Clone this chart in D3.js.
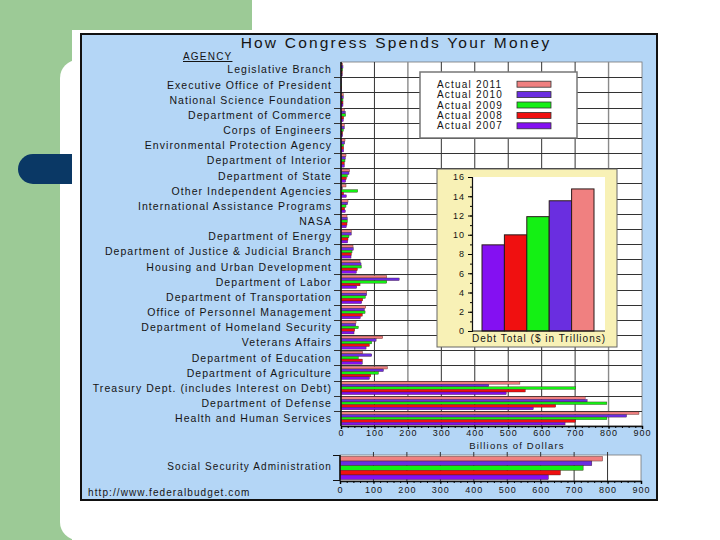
<!DOCTYPE html>
<html><head><meta charset="utf-8">
<script src="https://cdn.jsdelivr.net/npm/d3@7"></script>
<style>
body{margin:0;background:#fff;}
text{font-family:"Liberation Sans",Arial,Helvetica,sans-serif;fill:#141414;}
</style></head>
<body><svg id="c" width="720" height="540"></svg>
<script>
const categories = ["Legislative Branch","Executive Office of President","National Science Foundation","Department of Commerce","Corps of Engineers","Environmental Protection Agency","Department of Interior","Department of State","Other Independent Agencies","International Assistance Programs","NASA","Department of Energy","Department of Justice & Judicial Branch","Housing and Urban Development","Department of Labor","Department of Transportation","Office of Personnel Management","Department of Homeland Security","Veterans Affairs","Department of Education","Department of Agriculture","Treasury Dept. (includes Interest on Debt)","Department of Defense","Health and Human Services"];
const years = ["2011","2010","2009","2008","2007"];
const actual2011 = [5,1,7,10,10,12,15,26,15,21,18,31,36,57,137,77,74,45,125,65,139,535,730,891];
const actual2010 = [6,1,7,13,10,11,13,24,4,20,19,31,37,60,174,77,70,44,105,92,127,442,736,854];
const actual2009 = [5,1,6,14,7,8,12,19,50,15,19,24,33,61,137,73,72,52,92,52,112,702,795,795];
const actual2008 = [4,1,6,8,5,8,10,16,8,11,18,21,31,49,57,65,64,41,85,64,89,551,642,701];
const actual2007 = [4,2,6,7,5,8,10,14,16,13,16,20,30,46,47,62,58,39,75,64,85,494,575,670];
const socialSecurity = {category:"Social Security Administration", values:[785,753,727,659,623]};
const debtYears = ["2007","2008","2009","2010","2011"];
const debtTotals = [8.95,9.99,11.88,13.53,14.76];
const xTicks = [0,100,200,300,400,500,600,700,800,900];
const debtTicks = [0,2,4,6,8,10,12,14,16];

const colors = {"2011":"#f08080","2010":"#6a2ee0","2009":"#14f014","2008":"#f01010","2007":"#8410f2"};
const series = {"2011":actual2011,"2010":actual2010,"2009":actual2009,"2008":actual2008,"2007":actual2007};

const svg = d3.select("#c");
// slide background
svg.append("rect").attr("x",0).attr("y",0).attr("width",252).attr("height",30).attr("fill","#9cca96");
svg.append("rect").attr("x",0).attr("y",0).attr("width",72).attr("height",540).attr("fill","#9cca96");
svg.append("rect").attr("x",60).attr("y",60).attr("width",40).attr("height",480).attr("rx",18).attr("fill","#fff");
svg.append("rect").attr("x",72).attr("y",30).attr("width",30).attr("height",510).attr("fill","#fff");
svg.append("rect").attr("x",18).attr("y",154).attr("width",70).attr("height",30).attr("rx",15).attr("fill","#0a3865");
svg.append("rect").attr("x",72).attr("y",150).attr("width",20).attr("height",40).attr("fill","#fff");

// chart frame
svg.append("rect").attr("x",81).attr("y",34).attr("width",576).attr("height",466).attr("fill","#b4d6f6").attr("stroke","#111").attr("stroke-width",2);

svg.append("text").attr("x",396).attr("y",48).attr("text-anchor","middle").style("font-size","15.5px").style("letter-spacing","2.2px").text("How Congress Spends Your Money");
svg.append("text").attr("x",183).attr("y",60).style("font-size","10px").style("letter-spacing","1.2px").style("text-decoration","underline").text("AGENCY");

const x = d3.scaleLinear().domain([0,900]).range([341,642]);
const y = d3.scaleBand().domain(categories).range([62,426]);
const yi = d3.scaleBand().domain(years).range([0,y.bandwidth()]).paddingOuter(0.4);

svg.append("rect").attr("x",341).attr("y",62).attr("width",301).attr("height",364).attr("fill","#fff").attr("stroke","#777").attr("stroke-width",0.8);
// vertical grid
svg.append("g").selectAll("line").data(xTicks.slice(1,9)).join("line")
  .attr("x1",d=>x(d)).attr("x2",d=>x(d)).attr("y1",62).attr("y2",426)
  .attr("stroke",d=>(d===200||d===800)?"#8a8a8a":"#333").attr("stroke-width",d=>(d===200||d===800)?1.4:1);
// horizontal grid at band boundaries
svg.append("g").selectAll("line").data(categories.slice(1)).join("line")
  .attr("x1",334).attr("x2",642).attr("y1",d=>Math.round(y(d))+0.5).attr("y2",d=>Math.round(y(d))+0.5)
  .attr("stroke","#333").attr("stroke-width",1);

// bars
const bg = svg.append("g");
years.forEach(yr=>{
  bg.append("g").selectAll("rect").data(categories).join("rect")
    .attr("x",x(0)).attr("y",(d)=>y(d)+yi(yr))
    .attr("width",(d,i)=>Math.max(0.6,x(series[yr][i])-x(0))).attr("height",yi.bandwidth())
    .attr("fill",colors[yr]).attr("stroke","#3a1a1a").attr("stroke-width",0.35);
});

// y labels
svg.append("g").selectAll("text").data(categories).join("text")
  .attr("x",332).attr("y",d=>y(d)+y.bandwidth()/2+3.8).attr("text-anchor","end")
  .style("font-size","10.5px").style("letter-spacing","1.05px").text(d=>d);

// axes
const xAxis = svg.append("g").attr("transform","translate(0,426)")
  .call(d3.axisBottom(x).tickValues(xTicks).tickSize(3).tickPadding(1).tickFormat(d3.format("d")));
xAxis.select(".domain").attr("stroke","#111").attr("stroke-width",1.5);
xAxis.selectAll("text").style("font-size","9px").style("letter-spacing","1px").attr("fill","#222");
svg.append("g").attr("transform","translate(0,426)")
  .call(d3.axisBottom(x).tickValues(d3.range(0,901,20)).tickSize(2).tickFormat(""))
  .select(".domain").remove();
svg.append("line").attr("x1",341).attr("x2",341).attr("y1",62).attr("y2",426).attr("stroke","#111").attr("stroke-width",1.5);
svg.append("text").attr("x",517).attr("y",449).attr("text-anchor","middle").style("font-size","9.5px").style("letter-spacing","1.2px").text("Billions of Dollars");

// legend
const lg = svg.append("g");
lg.append("rect").attr("x",420).attr("y",72).attr("width",157).attr("height",66).attr("fill","#fff").attr("stroke","#777").attr("stroke-width",1.5);
const ly = d3.scaleBand().domain(years).range([79,131]);
lg.selectAll("text").data(years).join("text").attr("x",437).attr("y",d=>ly(d)+ly.bandwidth()/2+3.5)
  .style("font-size","10px").style("letter-spacing","1.2px").text(d=>"Actual "+d);
lg.selectAll("rect.sw").data(years).join("rect").attr("class","sw").attr("x",517).attr("width",34)
  .attr("y",d=>ly(d)+ly.bandwidth()/2-3).attr("height",6).attr("fill",d=>colors[d]).attr("stroke","#333").attr("stroke-width",0.8);

// debt inset
const ig = svg.append("g");
ig.append("rect").attr("x",437).attr("y",169).attr("width",180).attr("height",178).attr("fill","#f8f1b6").attr("stroke","#666").attr("stroke-width",1);
ig.append("rect").attr("x",472).attr("y",177).attr("width",133).attr("height",154).attr("fill","#fff");
const dy = d3.scaleLinear().domain([0,16]).range([331,177]);
const dx = d3.scaleBand().domain(debtYears).range([482,594]);
ig.selectAll("rect.db").data(debtYears).join("rect").attr("class","db")
  .attr("x",d=>dx(d)).attr("width",dx.bandwidth()).attr("y",(d,i)=>dy(debtTotals[i])).attr("height",(d,i)=>dy(0)-dy(debtTotals[i]))
  .attr("fill",d=>colors[d]).attr("stroke","#2a1a1a").attr("stroke-width",1);
const dAxis = ig.append("g").attr("transform","translate(472,0)")
  .call(d3.axisLeft(dy).tickValues(debtTicks).tickSize(4).tickPadding(3));
dAxis.select(".domain").attr("stroke","#111").attr("stroke-width",1.2);
dAxis.selectAll("text").style("font-size","9px").style("letter-spacing","1px").attr("fill","#222");
ig.append("g").attr("transform","translate(472,0)")
  .call(d3.axisLeft(dy).tickValues(d3.range(0,16.01,1)).tickSize(2).tickFormat("")).select(".domain").remove();
ig.append("line").attr("x1",472).attr("x2",605).attr("y1",331).attr("y2",331).attr("stroke","#111");
ig.append("text").attr("x",539).attr("y",342).attr("text-anchor","middle").style("font-size","10px").style("letter-spacing","1px").text("Debt Total ($ in Trillions)");

// social security panel
const sx = d3.scaleLinear().domain([0,900]).range([340,641]);
const sy = d3.scaleBand().domain(years).range([455,481]).paddingOuter(0.3);
svg.append("rect").attr("x",340).attr("y",455).attr("width",301).attr("height",26).attr("fill","#fff").attr("stroke","#777").attr("stroke-width",0.8);
svg.append("g").selectAll("line").data(xTicks.slice(1,9)).join("line")
  .attr("x1",d=>sx(d)).attr("x2",d=>sx(d)).attr("y1",452).attr("y2",481).attr("stroke","#333");
svg.append("g").selectAll("rect").data(years).join("rect")
  .attr("x",sx(0)).attr("y",d=>sy(d)).attr("height",sy.bandwidth()).attr("width",(d,i)=>sx(socialSecurity.values[i])-sx(0))
  .attr("fill",d=>colors[d]).attr("stroke","#3a1a1a").attr("stroke-width",0.4);
const sAxis = svg.append("g").attr("transform","translate(0,481)")
  .call(d3.axisBottom(sx).tickValues(xTicks).tickSize(3).tickPadding(3).tickFormat(d3.format("d")));
sAxis.select(".domain").attr("stroke","#111").attr("stroke-width",1.5);
sAxis.selectAll("text").style("font-size","9px").style("letter-spacing","1px").attr("fill","#222");
svg.append("g").attr("transform","translate(0,481)")
  .call(d3.axisBottom(sx).tickValues(d3.range(0,901,20)).tickSize(2).tickFormat("")).select(".domain").remove();
svg.append("line").attr("x1",340).attr("x2",340).attr("y1",455).attr("y2",481).attr("stroke","#111").attr("stroke-width",1.5);
svg.append("line").attr("x1",333).attr("x2",340).attr("y1",455.5).attr("y2",455.5).attr("stroke","#111");
svg.append("line").attr("x1",333).attr("x2",340).attr("y1",480.5).attr("y2",480.5).attr("stroke","#111");
svg.append("text").attr("x",332).attr("y",470).attr("text-anchor","end").style("font-size","10px").style("letter-spacing","1.1px").text(socialSecurity.category);

svg.append("text").attr("x",88).attr("y",496).style("font-size","10px").style("letter-spacing","1.1px").text("http://www.federalbudget.com");
</script></body></html>
